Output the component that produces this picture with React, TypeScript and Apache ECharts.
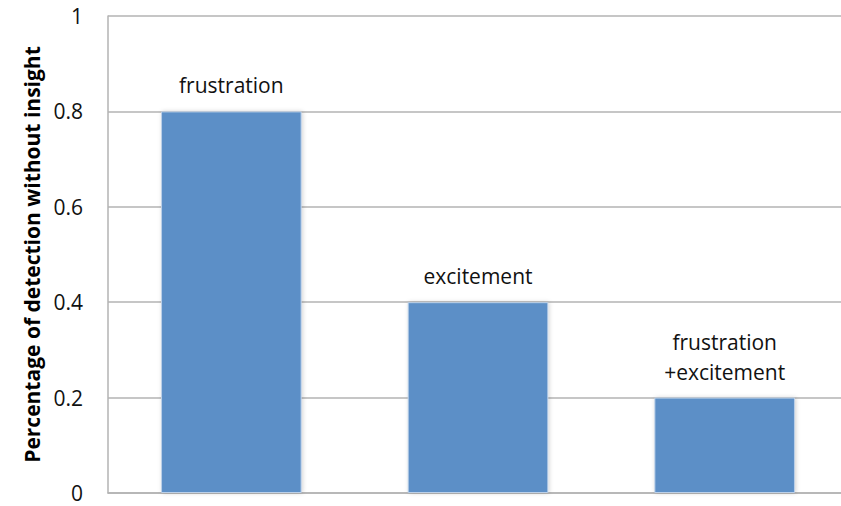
import React, { useEffect, useRef } from "react";
import * as echarts from "echarts";

const categories = ["frustration", "excitement", "frustration\n+excitement"];
const values = [0.8, 0.4, 0.2];
const yTicks = { min: 0, max: 1, interval: 0.2 };
const yTitle = "Percentage of detection without insight";

export default function App() {
  const ref = useRef<HTMLDivElement>(null);
  useEffect(() => {
    if (!ref.current) return;
    const chart = echarts.init(ref.current, undefined, { renderer: "svg" });
    chart.setOption({
      animation: false,
      grid: { left: 108, right: 0, top: 16, bottom: 13, containLabel: false },
      xAxis: {
        type: "category",
        data: categories,
        axisLine: { show: true, lineStyle: { color: "#b3b3b3", width: 1.5 } },
        axisTick: { show: false },
        axisLabel: { show: false },
        splitLine: { show: false },
      },
      yAxis: {
        type: "value",
        min: yTicks.min,
        max: yTicks.max,
        interval: yTicks.interval,
        name: yTitle,
        nameLocation: "middle",
        nameGap: 64,
        nameTextStyle: {
          fontFamily: "Open Sans",
          fontWeight: "bold",
          fontSize: 21,
          color: "#000",
        },
        axisLine: { show: true, lineStyle: { color: "#b3b3b3", width: 1.5 } },
        axisTick: { show: false },
        axisLabel: {
          margin: 25,
          fontFamily: "Open Sans",
          fontSize: 21,
          color: "#111",
          formatter: (v: number) => (v === 0 || v === 1 ? String(v) : v.toFixed(1)),
        },
        splitLine: { show: true, lineStyle: { color: "#b3b3b3", width: 1.5 } },
      },
      series: [
        {
          type: "bar",
          data: values,
          barWidth: "57%",
          itemStyle: {
            color: "#5b8fc7",
            borderColor: "#bcd0e8",
            borderWidth: 1,
            shadowColor: "rgba(0,0,0,0.18)",
            shadowBlur: 4,
            shadowOffsetX: 1,
            shadowOffsetY: 0,
          },
          label: {
            show: true,
            position: "top",
            distance: 11,
            formatter: (p: any) => categories[p.dataIndex],
            fontFamily: "Open Sans",
            fontSize: 21,
            lineHeight: 30,
            color: "#111",
          },
        },
      ],
    });
    return () => chart.dispose();
  }, []);
  return (
    <div style={{ position: "absolute", left: 0, top: 0, width: 841, height: 506, overflow: "hidden" }}>
      <div ref={ref} style={{ width: 848, height: 506 }} />
    </div>
  );
}
